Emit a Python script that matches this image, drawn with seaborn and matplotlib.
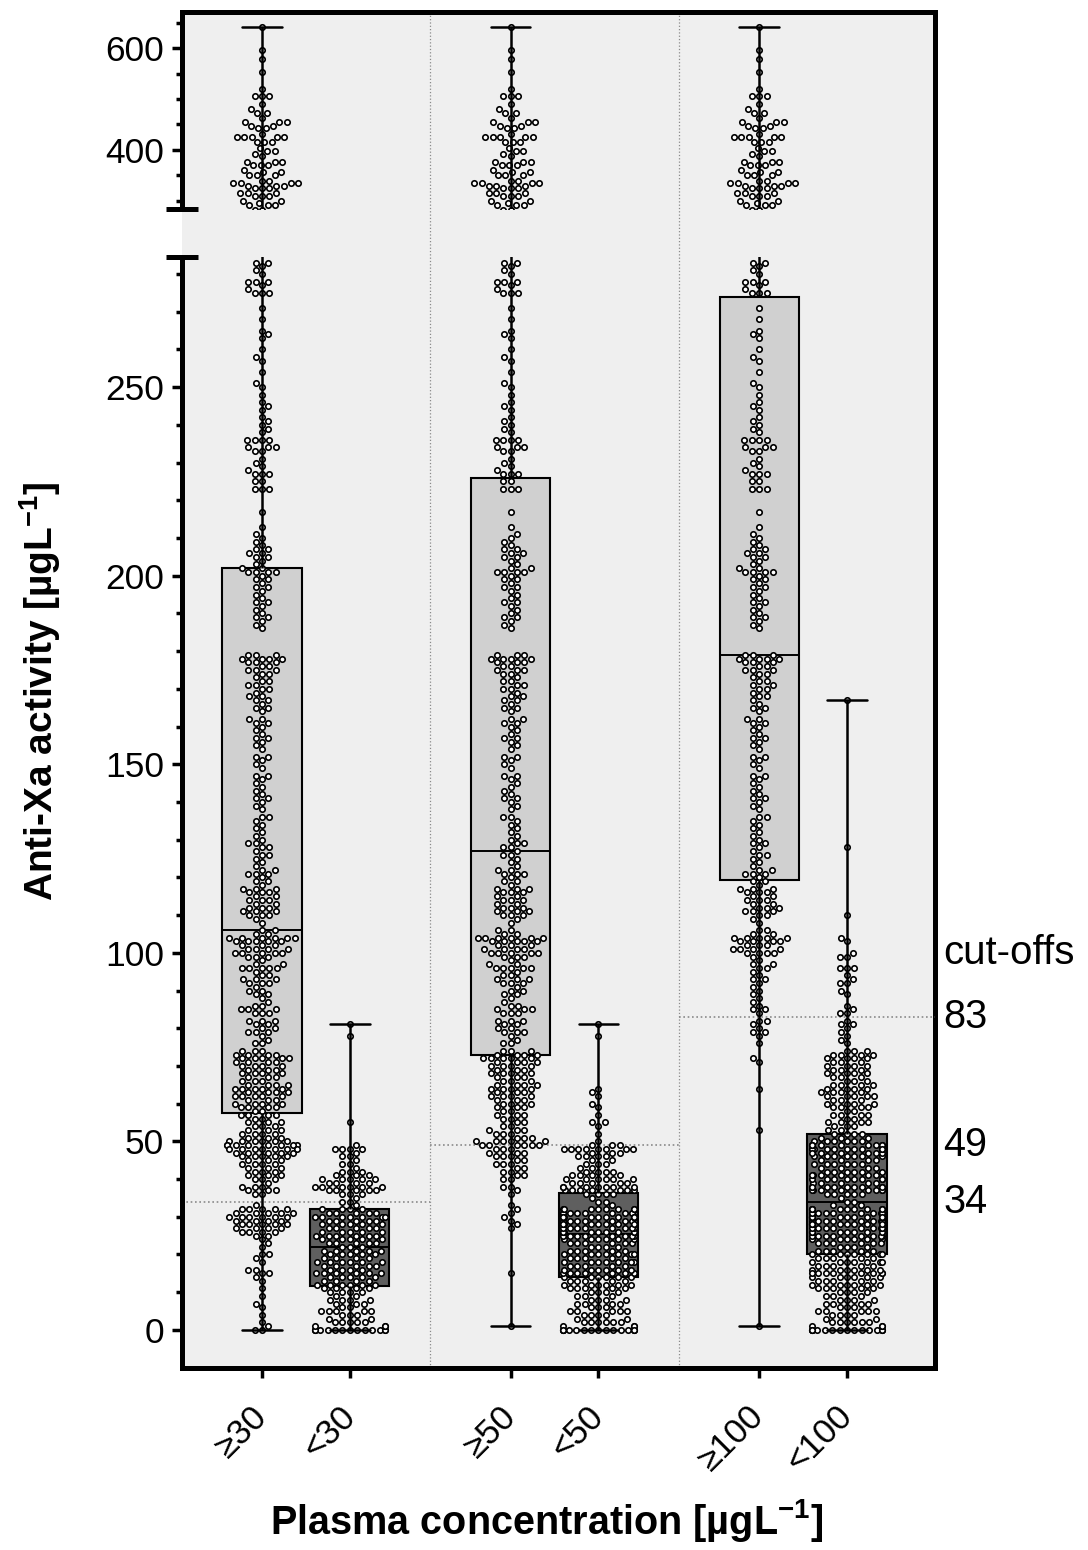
import matplotlib
matplotlib.use("Agg")
import matplotlib.pyplot as plt
from matplotlib.ticker import FixedLocator, MultipleLocator
import numpy as np
import pandas as pd
import seaborn as sns

# anti-Xa activity [ug/L] of the samples, split by plasma concentration band
xa_lt30 = [
    0, 0, 0, 0, 0, 0, 0, 0, 0, 0, 0, 0, 0, 0,
    1, 1, 1, 2, 2, 2, 2, 2, 3, 3, 4, 4, 4, 5, 5, 5, 5, 5, 6, 6, 7, 7, 7, 8, 8, 8, 8,
    9, 9, 10, 10, 10, 10, 11, 11, 11, 11,
    12, 12, 12, 12, 12, 12, 13, 13, 13, 13, 14, 14, 14, 14, 14, 15, 15, 15, 15, 15, 15,
    16, 16, 16, 16, 17, 17, 17, 17, 17, 18, 18, 18, 18, 18, 18, 19, 19, 19, 19,
    20, 20, 20, 20, 20, 21, 21, 21, 21, 21, 22, 22, 22,
    23, 23, 23, 23, 23, 24, 24, 24, 24, 24, 25, 25, 25, 25, 25, 25, 26, 26, 26, 26, 26,
    27, 27, 27, 27, 27, 28, 28, 28, 28, 28, 29, 29, 29, 29, 29, 30, 30, 30, 30, 30, 30, 30,
    31, 31, 31, 31, 31, 32, 32, 32, 32,
    33, 34, 34, 35, 36, 36, 36,
    37, 37, 37, 37, 37, 38, 38, 38, 38, 38, 38, 39, 39, 39, 39, 40, 40, 40, 40, 40,
    41, 41, 41, 42, 42, 42, 43, 44, 44, 45, 46, 46, 47, 48, 48, 48, 48, 49, 55, 78, 81,
]
xa_30_50 = [
    0, 0, 2, 4, 6, 7, 9, 11, 13, 14,
    15, 16, 16, 18, 19, 20, 20, 22, 23, 24, 25, 25,
    26, 26, 26, 26, 27, 27, 27, 28, 28, 28, 28, 29, 29, 29, 30, 30, 30, 30, 30,
    31, 31, 31, 31, 32, 32, 32, 32,
    36, 37, 37, 38, 39, 40, 41, 42, 43, 44, 45, 46, 46, 47, 47, 48, 48, 48, 48,
    49, 49, 50, 52, 54, 55, 57, 59, 60, 62, 63, 64,
]
xa_50_100 = [
    167, 128, 110, 104, 103, 100, 99, 99, 96, 96, 96, 94, 93, 92, 92, 90, 89,
    86, 85, 84, 84, 82, 81, 80, 79, 77, 76,
    74, 74, 74, 73, 73, 73, 73, 72, 72, 72, 72, 71, 71, 71, 70, 70, 70, 70,
    69, 69, 69, 68, 68, 68, 68, 67, 67, 67, 66, 66, 66, 65, 65, 65, 65,
    64, 64, 64, 63, 63, 63, 62, 62, 62, 62, 61, 61, 61, 60, 60, 60, 59, 59, 59,
    58, 58, 57, 57, 57, 56, 56, 55, 55, 54, 54, 53, 53,
    52, 52, 52, 51, 51, 51, 50, 50, 50, 50, 50, 49, 49, 49, 49, 49, 49,
    48, 48, 48, 47, 47, 47, 46, 46, 46, 45, 45, 44, 44, 44, 43, 43,
    42, 42, 41, 41, 40, 40, 38, 38, 37, 36, 33, 32, 31, 30, 29, 28, 27, 15,
]
xa_ge100 = [
    642, 597, 578, 552, 520, 505, 505, 505, 490, 480, 472, 472, 462, 455, 455,
    455, 448, 448, 444, 444, 432, 426, 426, 426, 426, 426, 416, 416, 416, 404,
    398, 398, 392, 388, 377, 377, 377, 370, 370, 370, 360, 357, 357, 350, 350,
    350, 340, 340, 335, 335, 335, 335, 330, 330, 330, 325, 325, 325, 315, 315,
    315, 310, 310, 310, 300, 300, 296, 292, 292, 292,
    283, 283, 282, 281, 280, 278, 278, 278, 277, 276, 275, 275, 275,
    271, 268, 265, 264, 263, 260, 258, 257, 254, 251, 250, 248, 246, 245, 244,
    242, 241, 240, 239, 238, 236, 236, 236, 236, 234, 234, 234, 233, 233, 231,
    230, 229, 228, 227, 227, 227,
    225, 225, 223, 223, 223, 217, 213, 211, 210, 209, 208, 207, 207, 206, 206,
    205, 205, 204, 203, 202, 202, 201, 201, 201, 201,
    200, 199, 199, 198, 197, 197, 196, 195, 194, 193, 193, 192, 191, 190, 189,
    189, 188, 187, 186,
    179, 179, 179, 178, 178, 178, 178, 177, 177, 177, 176, 176, 175, 175, 175,
    174, 174, 173, 172, 172, 171, 171, 170, 170, 169, 168, 168,
    167, 166, 165, 165, 164, 162, 162, 161, 161, 160, 159, 158, 157, 157, 156,
    155, 154, 152, 152, 151, 150, 149, 147, 147, 146, 145, 144, 143, 142, 141,
    141, 140, 139, 138, 136, 136, 135, 134, 133, 132, 131, 130, 129, 129, 128,
    127, 126, 126, 125, 124, 123, 122, 122, 121, 121, 121, 120, 119, 119, 118,
    117, 117, 117, 116, 116, 116, 115, 115, 114, 114, 114, 113, 113, 112, 112,
    112, 111, 111, 111, 110, 110, 109, 108, 106, 106, 105, 105, 104, 104, 104,
    104, 104, 103, 103, 103, 103, 102, 102, 102, 101, 101, 101, 101, 100, 100,
    100, 100, 99, 98, 97, 97, 96, 96, 95, 94, 93, 93, 92, 91, 90, 89, 88, 87,
    86, 85, 85, 84, 82, 82, 81, 80, 79, 79, 78, 76, 72, 71, 64, 53, 1,
]

groups = ["≥30", "<30", "≥50", "<50", "≥100", "<100"]
group_bands = [
    ["30_50", "50_100", "ge100"], ["lt30"],
    ["50_100", "ge100"], ["lt30", "30_50"],
    ["ge100"], ["lt30", "30_50", "50_100"],
]
group_kind = ["ge", "lt", "ge", "lt", "ge", "lt"]
cutoffs = [34, 49, 83]

bands = {"lt30": xa_lt30, "30_50": xa_30_50, "50_100": xa_50_100, "ge100": xa_ge100}

# x positions of the six columns (pairs sit closer together)
group_pos = [0, 1, 2.83, 3.83, 5.66, 6.66]

rows = []
for g, p, bl, k in zip(groups, group_pos, group_bands, group_kind):
    for b in bl:
        for v in bands[b]:
            rows.append((g, p, k, v))
df = pd.DataFrame(rows, columns=["group", "pos", "kind", "xa"])

sns.set_theme(style="ticks", rc={
    "axes.edgecolor": "black", "xtick.color": "black", "ytick.color": "black",
    "text.color": "black", "axes.labelcolor": "black",
})
plt.rcParams["font.family"] = ["Liberation Sans", "DejaVu Sans"]
plt.rcParams["mathtext.fontset"] = "custom"
plt.rcParams["mathtext.bf"] = "Liberation Sans:bold"
plt.rcParams["mathtext.rm"] = "Liberation Sans:bold"
plt.rcParams["mathtext.default"] = "bf"

W, H = 1088, 1550
fig = plt.figure(figsize=(W / 100, H / 100), dpi=100)
left, right = 182 / W, 935 / W
bg = fig.add_axes([left, 1 - 1368 / H, right - left, (1368 - 12) / H])
ax_bot = fig.add_axes([left, 1 - 1368 / H, right - left, (1368 - 257) / H])
ax_top = fig.add_axes([left, 1 - 209 / H, right - left, (209 - 12) / H])

xlim = (-0.911, 7.662)
seps = [(group_pos[1] + group_pos[2]) / 2, (group_pos[3] + group_pos[4]) / 2]
spine_w = 3.6

bg.set_facecolor("#efefef")
bg.set_xlim(xlim)
bg.set_ylim(0, 1)
bg.set_xticks([])
bg.set_yticks([])
for s in ["top", "right"]:
    bg.spines[s].set_linewidth(spine_w)
for s in ["left", "bottom"]:
    bg.spines[s].set_visible(False)
for x in seps:
    bg.axvline(x, color="#8a8a8a", lw=0.9, ls=":")

palette = {"ge": "#d0d0d0", "lt": "#5f5f5f"}
limits = {ax_bot: (-10.1, 284.5), ax_top: (284.3, 670.6)}

for ax in [ax_bot, ax_top]:
    ax.set_facecolor("none")
    sns.boxplot(data=df, x="pos", y="xa", hue="kind", palette=palette,
                native_scale=True, dodge=False, width=0.9, whis=(0, 100),
                linecolor="black", legend=False, ax=ax,
                boxprops={"linewidth": 1.5},
                medianprops={"linewidth": 1.4},
                whiskerprops={"linewidth": 1.8},
                capprops={"linewidth": 1.8})
    for p in ax.patches:
        p.set_zorder(1.5)
    for ln in ax.lines:
        xd = np.asarray(ln.get_xdata(), dtype=float)
        # median lines span the whole box and sit under the points
        if xd.size == 2 and abs(xd[1] - xd[0]) > 0.6:
            ln.set_zorder(2.5)
        else:
            ln.set_zorder(4)
    lo, hi = limits[ax]
    part = df[(df["xa"] > lo - 2) & (df["xa"] < hi + 2)]
    sns.swarmplot(data=part, x="pos", y="xa", native_scale=True, color="white",
                  edgecolor="black", linewidth=1.2, size=3.9, warn_thresh=1,
                  ax=ax, zorder=3)
    ax.set_xlim(xlim)
    ax.set_ylim(lo, hi)
    ax.set_xlabel("")
    ax.set_ylabel("")
    for s in ["top", "right"]:
        ax.spines[s].set_visible(False)
    ax.spines["left"].set_linewidth(spine_w)
    ax.tick_params(axis="y", which="major", length=7, width=2.5, labelsize=25.5, pad=6)
    ax.tick_params(axis="y", which="minor", length=4.5, width=2.5)

# cut-off lines, one per panel
edges = [xlim[0]] + seps + [xlim[1]]
for i, c in enumerate(cutoffs):
    ax_bot.hlines(c, edges[i], edges[i + 1], colors="#8a8a8a", lw=1.2,
                  linestyles=(0, (1, 1.6)), zorder=1.2)

ax_bot.set_yticks([0, 50, 100, 150, 200, 250])
ax_bot.yaxis.set_minor_locator(FixedLocator(np.arange(0, 285, 10)))
ax_bot.spines["bottom"].set_linewidth(spine_w)
ax_bot.set_xticks(group_pos)
ax_bot.set_xticklabels(groups, rotation=45, ha="right", va="center",
                       rotation_mode="anchor", fontsize=25)
ax_bot.tick_params(axis="x", length=7, width=2.5, pad=24)

ax_top.set_yticks([400, 600])
ax_top.yaxis.set_minor_locator(MultipleLocator(50))
ax_top.spines["bottom"].set_visible(False)
ax_top.set_xticks([])

# axis break caps
d = 16 / 753
ax_top.plot([-d, d], [0, 0], transform=ax_top.transAxes, color="black",
            lw=spine_w, clip_on=False, solid_capstyle="butt")
ax_bot.plot([-d, d], [1, 1], transform=ax_bot.transAxes, color="black",
            lw=spine_w, clip_on=False, solid_capstyle="butt")

# cut-off labels on the right
tr = ax_bot.get_yaxis_transform()
ax_bot.text(1.011, 100, "cut-offs", transform=tr, fontsize=29, va="center", ha="left")
for c in cutoffs:
    ax_bot.text(1.011, c, str(c), transform=tr, fontsize=28.5, va="center", ha="left")

fig.text(40 / W, 1 - 691 / H, r"Anti-Xa activity [µgL$^{-1}$]", rotation=90,
         fontsize=28, fontweight="bold", ha="center", va="center")
fig.text(547 / W, 1 - 1520 / H, r"Plasma concentration [µgL$^{-1}$]",
         fontsize=28.5, fontweight="bold", ha="center", va="center")

fig.savefig("out.png", dpi=100)
